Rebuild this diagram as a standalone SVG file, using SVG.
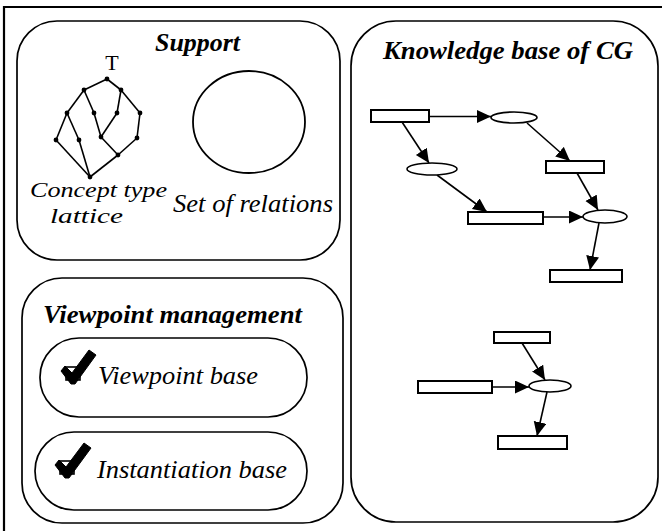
<svg xmlns="http://www.w3.org/2000/svg" width="662" height="531" viewBox="0 0 662 531">
<defs>
<marker id="ah" markerUnits="userSpaceOnUse" markerWidth="15" markerHeight="14" refX="14" refY="6.5" orient="auto">
<path d="M0,0 L14,6.5 L0,13 z" fill="#000"/>
</marker>
</defs>
<style>
.box{fill:none;stroke:#000;stroke-width:1.7}
.ttl{font-family:"Liberation Serif","Times New Roman",serif;font-weight:bold;font-style:italic;font-size:25px}
.lbl{font-family:"Liberation Serif","Times New Roman",serif;font-style:italic;font-size:25px}
.sm{font-size:22px}
.cg rect{fill:#fff;stroke:#000;stroke-width:2}
.cg ellipse{fill:#fff;stroke:#000;stroke-width:1.6}
.conn line{stroke:#000;stroke-width:1.6;marker-end:url(#ah)}
.lat line{stroke:#000;stroke-width:1.6}
.lat circle{fill:#000}
.chk{fill:#000;stroke:#000;stroke-width:1;stroke-linejoin:round}
.sq{fill:none;stroke:#000;stroke-width:1.6}
</style>
<rect width="662" height="531" fill="#fff"/>
<path d="M4,531 V7 H662" fill="none" stroke="#000" stroke-width="2.2"/>

<g id="support">
<rect class="box" x="17" y="21" width="323" height="239" rx="40"/>
<text class="ttl" x="155" y="51" textLength="85" lengthAdjust="spacingAndGlyphs">Support</text>
<g id="lattice" class="lat">
<line x1="107" y1="79" x2="84" y2="90"/>
<line x1="107" y1="79" x2="121" y2="90"/>
<line x1="84" y1="90" x2="67" y2="113"/>
<line x1="84" y1="90" x2="94" y2="113"/>
<line x1="94" y1="113" x2="101" y2="137"/>
<line x1="121" y1="90" x2="117" y2="113"/>
<line x1="117" y1="113" x2="101" y2="137"/>
<line x1="121" y1="90" x2="140" y2="113"/>
<line x1="140" y1="113" x2="137" y2="138"/>
<line x1="137" y1="138" x2="118" y2="155"/>
<line x1="101" y1="137" x2="118" y2="155"/>
<line x1="67" y1="113" x2="56" y2="140"/>
<line x1="67" y1="113" x2="79" y2="140"/>
<line x1="56" y1="140" x2="90" y2="177"/>
<line x1="79" y1="140" x2="90" y2="177"/>
<line x1="118" y1="155" x2="90" y2="177"/>
<circle cx="107" cy="79" r="2.4"/>
<circle cx="84" cy="90" r="2.4"/>
<circle cx="121" cy="90" r="2.4"/>
<circle cx="67" cy="113" r="2.4"/>
<circle cx="94" cy="113" r="2.4"/>
<circle cx="117" cy="113" r="2.4"/>
<circle cx="140" cy="113" r="2.4"/>
<circle cx="56" cy="140" r="2.4"/>
<circle cx="79" cy="140" r="2.4"/>
<circle cx="101" cy="137" r="2.4"/>
<circle cx="137" cy="138" r="2.4"/>
<circle cx="118" cy="155" r="2.4"/>
<circle cx="90" cy="177" r="2.4"/>
</g>
<text x="112" y="70" text-anchor="middle" font-family="Liberation Serif, serif" font-size="22">T</text>
<text class="lbl sm" x="30" y="197" textLength="137" lengthAdjust="spacingAndGlyphs">Concept type</text>
<text class="lbl sm" x="50" y="223" textLength="73" lengthAdjust="spacingAndGlyphs">lattice</text>
<ellipse cx="249" cy="122" rx="56" ry="51" fill="none" stroke="#000" stroke-width="1.8"/>
<text class="lbl" x="173" y="212" textLength="160" lengthAdjust="spacingAndGlyphs">Set of relations</text>
</g>

<g id="viewpoint-management">
<rect class="box" x="22" y="278" width="321" height="245" rx="40"/>
<text class="ttl" x="43" y="323" textLength="259" lengthAdjust="spacingAndGlyphs">Viewpoint management</text>
</g>
<g id="viewpoint-base">
<rect class="box" x="40" y="338" width="267" height="79" rx="39"/>
<rect class="sq" x="66" y="367" width="14" height="13"/>
<polygon class="chk" points="61,371 65,366 72,373 89,350 96,355 75,384 71,384"/>
<text class="lbl" x="98" y="384" textLength="160" lengthAdjust="spacingAndGlyphs">Viewpoint base</text>
</g>
<g id="instantiation-base">
<rect class="box" x="35" y="432" width="272" height="78" rx="39"/>
<rect class="sq" x="60" y="461" width="14" height="13"/>
<polygon class="chk" points="55,465 59,460 66,467 84,443 91,448 69,478 65,478"/>
<text class="lbl" x="97" y="478" textLength="190" lengthAdjust="spacingAndGlyphs">Instantiation base</text>
</g>

<g id="knowledge-base">
<rect class="box" x="351" y="21" width="307" height="501" rx="45"/>
<text class="ttl" x="383" y="59" textLength="250" lengthAdjust="spacingAndGlyphs">Knowledge base of CG</text>
</g>

<g id="connectors" class="conn">
<line x1="429" y1="116.5" x2="491" y2="116.5"/>
<line x1="402" y1="122" x2="429" y2="163"/>
<line x1="527" y1="123" x2="570" y2="161"/>
<line x1="437" y1="175" x2="487" y2="212"/>
<line x1="543" y1="217" x2="583" y2="217"/>
<line x1="577" y1="173" x2="598" y2="210"/>
<line x1="599" y1="223" x2="590" y2="270"/>
<line x1="522" y1="343" x2="545" y2="380"/>
<line x1="492" y1="387" x2="529" y2="387"/>
<line x1="547" y1="392" x2="537" y2="436"/>
</g>

<g id="cg-nodes" class="cg">
<rect id="c1" x="371" y="110" width="58" height="12"/>
<ellipse id="r1" cx="514" cy="117.5" rx="23" ry="5.5"/>
<ellipse id="r2" cx="432" cy="169" rx="25" ry="6"/>
<rect id="c2" x="546" y="161" width="58" height="12"/>
<rect id="c3" x="468" y="212" width="75" height="12"/>
<ellipse id="r3" cx="605" cy="216.5" rx="22" ry="6.5"/>
<rect id="c4" x="550" y="270" width="72" height="12"/>
<rect id="c5" x="494" y="332" width="56" height="11"/>
<ellipse id="r4" cx="550" cy="386" rx="21" ry="6"/>
<rect id="c6" x="418" y="381" width="74" height="12"/>
<rect id="c7" x="498" y="436" width="69" height="13"/>
</g>
</svg>
